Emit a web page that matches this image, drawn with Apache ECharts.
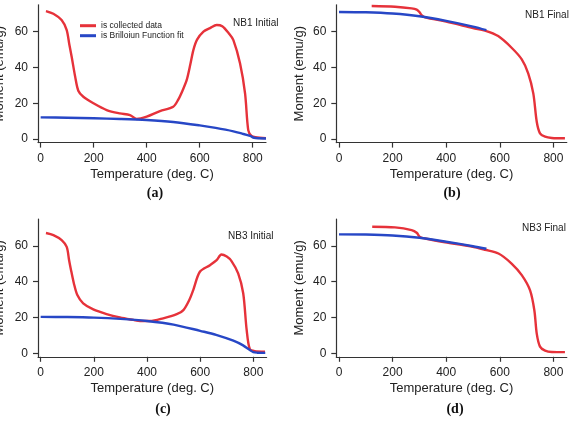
<!DOCTYPE html>
<html>
<head>
<meta charset="utf-8">
<script src="https://cdn.jsdelivr.net/npm/echarts@6/dist/echarts.min.js"></script>
<style>
  html, body { margin: 0; padding: 0; background: #fff; }
  #chart { width: 570px; height: 421px; }
</style>
</head>
<body>
<div id="chart"></div>
<script>
// tick values
const tempTicks = [0, 200, 400, 600, 800]
const momentTicks = [0, 20, 40, 60]

// (a) NB1 initial
const nb1InitTemp = [20, 48, 79, 98, 108, 117, 130, 142, 161, 199, 249, 299, 337, 362, 400, 450, 500, 519, 535, 551, 565, 576, 590, 614, 639, 664, 685, 710, 727, 752, 771, 783, 795, 810, 850]
const nb1InitMoment = [71.5, 70, 66.5, 61, 53, 46, 35, 27, 23.6, 20, 16.2, 14.3, 13.4, 11.2, 12.5, 15.6, 18, 22, 27, 33, 42, 49.7, 55.5, 60, 62, 63.7, 63, 59, 55.3, 42.3, 25.5, 5, 1.8, 1, 0.5]
const nb1InitFitTemp = [0, 100, 200, 300, 400, 500, 600, 660, 727, 760, 790, 805, 820, 850]
const nb1InitFitMoment = [12.1, 11.9, 11.6, 11.2, 10.6, 9.5, 7.6, 6.2, 4.3, 3.0, 1.7, 0.7, 0.4, 0.3]

// (b) NB1 final
const nb1FinalTemp = [122, 209, 271, 290, 300, 308, 321, 400, 500, 550, 594, 644, 682, 706, 725, 738, 750, 769, 794, 843]
const nb1FinalMoment = [74.3, 73.9, 73, 72.3, 71, 69.3, 68, 65.6, 62, 60.3, 57.5, 51, 44.5, 36.7, 25.5, 9.5, 3.2, 1.3, 0.6, 0.4]
const nb1FinalFitTemp = [0, 100, 200, 300, 400, 500, 550]
const nb1FinalFitMoment = [71, 70.8, 70.1, 68.6, 66, 62.8, 60.8]

// (c) NB3 initial
const nb3InitTemp = [20, 48, 79, 98, 107, 113, 125, 138, 160, 198, 248, 298, 349, 374, 411, 461, 512, 537, 560, 574, 599, 637, 662, 680, 700, 718, 743, 762, 775, 787, 805, 844]
const nb3InitMoment = [67.2, 66, 63.2, 59.4, 52, 47.4, 39, 32.5, 27.9, 24.5, 21.9, 20, 18.6, 18, 18, 19.5, 21.8, 24.1, 30, 35.3, 45.5, 49.2, 52, 55.2, 54, 51.5, 44.6, 33.5, 13, 2.2, 1.2, 0.9]
const nb3InitFitTemp = [0, 100, 200, 300, 400, 500, 600, 660, 725, 760, 787, 800, 815, 845]
const nb3InitFitMoment = [20.3, 20.2, 19.9, 19.2, 18, 16, 12.5, 10.3, 7, 4.5, 1.8, 0.6, 0.3, 0.2]

// (d) NB3 final
const nb3FinalTemp = [124, 209, 271, 290, 302, 321, 396, 495, 545, 595, 644, 682, 713, 729, 738, 750, 769, 794, 843]
const nb3FinalMoment = [70.7, 70.3, 68.8, 67.3, 65, 64.1, 62, 59.6, 57.8, 55.7, 50.1, 43.6, 35.1, 23.9, 10.8, 3.7, 1.5, 0.7, 0.6]
const nb3FinalFitTemp = [0, 100, 200, 300, 400, 500, 550]
const nb3FinalFitMoment = [66.4, 66.3, 65.8, 64.5, 62.3, 59.8, 58.4]

const RED = '#e6323a'
const BLUE = '#2747c6'
const AXIS = '#333'
const FONT = 'Liberation Sans'

const zip = (xs, ys) => xs.map((x, i) => [x, ys[i]])

// plot areas, placed by hand; v6 would otherwise shrink them to fit labels
const grids = [
  { left: 38, top: 4.8, width: 228, height: 137.8, outerBoundsMode: 'none' },
  { left: 336.3, top: 4.8, width: 230.5, height: 137.8, outerBoundsMode: 'none' },
  { left: 38, top: 219, width: 228.6, height: 137.8, outerBoundsMode: 'none' },
  { left: 336.3, top: 219, width: 230.5, height: 137.8, outerBoundsMode: 'none' }
]
const yNameGaps = [32, 30, 32, 30]

const xAxes = grids.map((g, i) => ({
  type: 'value', gridIndex: i, min: -10, max: 850,
  name: 'Temperature (deg. C)', nameLocation: 'middle', nameGap: 25,
  nameTextStyle: { fontSize: 13, color: '#222', fontFamily: FONT },
  axisLine: { show: true, onZero: false, lineStyle: { color: AXIS, width: 1.2 } },
  axisTick: { show: true, customValues: tempTicks, length: 5, lineStyle: { color: AXIS, width: 1.2 } },
  axisLabel: { customValues: tempTicks, fontSize: 12, margin: 10, color: '#222', fontFamily: FONT },
  splitLine: { show: false }
}))

const yAxes = grids.map((g, i) => ({
  type: 'value', gridIndex: i, min: -2, max: 75,
  name: 'Moment (emu/g)', nameLocation: 'middle', nameGap: yNameGaps[i],
  nameTextStyle: { fontSize: 13, color: '#222', fontFamily: FONT },
  axisLine: { show: true, onZero: false, lineStyle: { color: AXIS, width: 1.2 } },
  axisTick: { show: true, customValues: momentTicks, length: 5, lineStyle: { color: AXIS, width: 1.2 } },
  axisLabel: { customValues: momentTicks, fontSize: 12, margin: 10, color: '#222', fontFamily: FONT },
  splitLine: { show: false }
}))

const line = (name, color, idx, data) => ({
  name, type: 'line', xAxisIndex: idx, yAxisIndex: idx,
  data, symbol: 'none', smooth: 0.3,
  lineStyle: { color, width: 2.4 }, itemStyle: { color }
})

const dataName = 'is collected data'
const fitName = 'is Brilloiun Function fit'

const series = [
  line(dataName, RED, 0, zip(nb1InitTemp, nb1InitMoment)),
  line(fitName, BLUE, 0, zip(nb1InitFitTemp, nb1InitFitMoment)),
  line(dataName, RED, 1, zip(nb1FinalTemp, nb1FinalMoment)),
  line(fitName, BLUE, 1, zip(nb1FinalFitTemp, nb1FinalFitMoment)),
  line(dataName, RED, 2, zip(nb3InitTemp, nb3InitMoment)),
  line(fitName, BLUE, 2, zip(nb3InitFitTemp, nb3InitFitMoment)),
  line(dataName, RED, 3, zip(nb3FinalTemp, nb3FinalMoment)),
  line(fitName, BLUE, 3, zip(nb3FinalFitTemp, nb3FinalFitMoment))
]

const text = (str, left, top, size) => ({
  type: 'text', left, top,
  style: { text: str, fontSize: size, fill: '#222', fontFamily: FONT }
})

const panelTag = (str, cx, cy) => ({
  type: 'text', x: cx, y: cy,
  style: { text: str, fontSize: 14, fontWeight: 'bold', fill: '#111', fontFamily: 'Liberation Serif', align: 'center', verticalAlign: 'middle' }
})

const chart = echarts.init(document.getElementById('chart'))
chart.setOption({
  animation: false,
  grid: grids,
  xAxis: xAxes,
  yAxis: yAxes,
  legend: {
    data: [dataName, fitName], orient: 'vertical', left: 80, top: 20.7, padding: 0,
    icon: 'rect', itemWidth: 16, itemHeight: 3, itemGap: 0,
    selectedMode: false,
    textStyle: { fontSize: 8.5, lineHeight: 10, color: '#222', fontFamily: FONT }
  },
  graphic: [
    text('NB1 Initial', 233, 18, 10),
    text('NB1 Final', 525, 10, 10),
    text('NB3 Initial', 228, 231, 10),
    text('NB3 Final', 522, 223, 10),
    panelTag('(a)', 155, 193),
    panelTag('(b)', 452, 193),
    panelTag('(c)', 163, 409),
    panelTag('(d)', 455, 409)
  ],
  series
})
</script>
</body>
</html>
